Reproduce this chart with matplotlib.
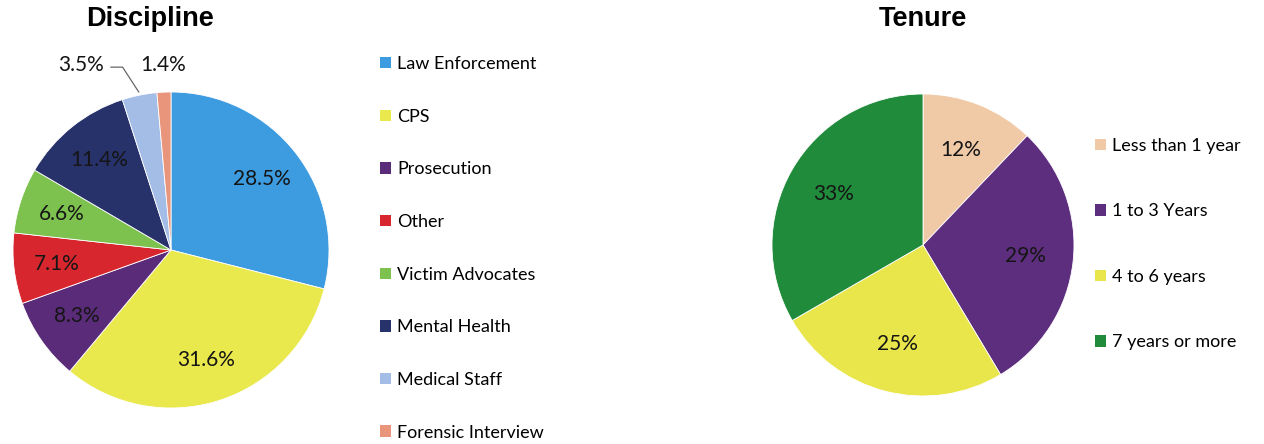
import numpy as np
import matplotlib
matplotlib.use("Agg")
import matplotlib.pyplot as plt
from matplotlib.patches import Patch

# Discipline data
disc_labels = ["Law Enforcement", "CPS", "Prosecution", "Other", "Victim Advocates",
               "Mental Health", "Medical Staff", "Forensic Interview"]
disc_values = [28.5, 31.6, 8.3, 7.1, 6.6, 11.4, 3.5, 1.4]
disc_colors = ["#3d9be0", "#e9e84c", "#5a2b79", "#d8262e", "#7dc14f",
               "#27316a", "#a3bde6", "#e8957c"]

# Tenure data
ten_labels = ["Less than 1 year", "1 to 3 Years", "4 to 6 years", "7 years or more"]
ten_values = [12, 29, 25, 33]
ten_colors = ["#f0c9a6", "#5d2d7e", "#e9e64b", "#1f8b3b"]

W, H = 1264, 444
fig = plt.figure(figsize=(W / 100, H / 100), dpi=100)
fig.patch.set_facecolor("white")

lab_font = "Lato"
title_font = "Liberation Sans"
lab_size = 15


def pie_axes(cx, cy, r):
    return fig.add_axes([(cx - r) / W, (H - cy - r) / H, 2 * r / W, 2 * r / H])


def fix_axes(ax):
    ax.set_xlim(-1, 1)
    ax.set_ylim(-1, 1)
    ax.set_aspect("equal")
    ax.axis("off")


# ---- Discipline pie
ax1 = pie_axes(171, 250, 158)
wedges, _ = ax1.pie(disc_values, colors=disc_colors, startangle=90, counterclock=False,
                    radius=1, wedgeprops=dict(edgecolor="white", linewidth=0.6))
fix_axes(ax1)
for w, v in zip(wedges, disc_values):
    if v < 5:
        continue
    mid = np.deg2rad((w.theta1 + w.theta2) / 2)
    ax1.text(0.73 * np.cos(mid), 0.73 * np.sin(mid), f"{v:.1f}%", ha="center", va="center",
             fontsize=lab_size, family=lab_font, color="#151515")

# small slices labelled outside
w_med = wedges[6]
m_med = np.deg2rad((w_med.theta1 + w_med.theta2) / 2)
ax1.annotate(f"{disc_values[6]:.1f}%", xy=(1.02 * np.cos(m_med), 1.02 * np.sin(m_med)),
             xytext=(-0.57, 1.17), ha="center", va="center", fontsize=lab_size,
             family=lab_font, color="#151515",
             arrowprops=dict(arrowstyle="-", color="#666666", lw=0.9,
                             connectionstyle="angle,angleA=0,angleB=123,rad=0",
                             relpos=(1.0, 0.4), shrinkA=3, shrinkB=0))
ax1.text(-0.05, 1.17, f"{disc_values[7]:.1f}%", ha="center", va="center",
         fontsize=lab_size, family=lab_font, color="#151515")

fig.text(150 / W, 1 - 19 / H, "Discipline", ha="center", va="center",
         fontsize=19.5, fontweight="bold", family=title_font)

handles1 = [Patch(facecolor=c, edgecolor="none") for c in disc_colors]
fig.legend(handles1, disc_labels, loc="upper left", bbox_to_anchor=(380 / W, 1 - 56 / H),
           frameon=False, prop=dict(family=lab_font, size=13), labelspacing=2.03,
           handlelength=0.6, handleheight=0.6, handletextpad=0.35, borderpad=0,
           borderaxespad=0)

# ---- Tenure pie
ax2 = pie_axes(923, 245, 151)
wedges2, _ = ax2.pie(ten_values, colors=ten_colors, startangle=90, counterclock=False,
                     radius=1, wedgeprops=dict(edgecolor="white", linewidth=0.6))
fix_axes(ax2)
for w, v in zip(wedges2, ten_values):
    mid = np.deg2rad((w.theta1 + w.theta2) / 2)
    ax2.text(0.68 * np.cos(mid), 0.68 * np.sin(mid), f"{v}%", ha="center", va="center",
             fontsize=lab_size, family=lab_font, color="#151515")

fig.text(923 / W, 1 - 19 / H, "Tenure", ha="center", va="center",
         fontsize=19.5, fontweight="bold", family=title_font)

handles2 = [Patch(facecolor=c, edgecolor="none") for c in ten_colors]
fig.legend(handles2, ten_labels, loc="upper left", bbox_to_anchor=(1095 / W, 1 - 138 / H),
           frameon=False, prop=dict(family=lab_font, size=13), labelspacing=2.74,
           handlelength=0.6, handleheight=0.6, handletextpad=0.35, borderpad=0,
           borderaxespad=0)

fig.savefig("out.png", dpi=100, facecolor="white")
